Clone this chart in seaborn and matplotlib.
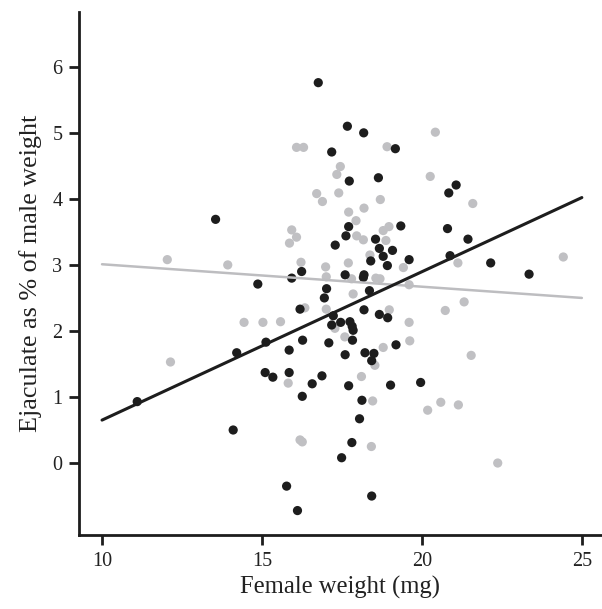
import matplotlib
matplotlib.use("Agg")
import matplotlib.pyplot as plt
import numpy as np
import pandas as pd
import seaborn as sns

# ---- data ----
black_x = [11.10, 13.55, 14.10, 14.21, 14.87, 15.125, 15.10, 15.34, 15.77, 15.85,
           15.85, 15.93, 16.11, 16.19, 16.24, 16.26, 16.27, 16.57, 16.76, 16.875,
           16.95, 17.02, 17.09, 17.18, 17.18, 17.23, 17.29, 17.46, 17.49, 17.60,
           17.60, 17.625, 17.67, 17.71, 17.73, 17.71, 17.75, 17.82, 17.85, 17.81,
           17.83, 18.05, 18.125, 18.18, 18.19, 18.17, 18.19, 18.22, 18.36, 18.40,
           18.43, 18.43, 18.50, 18.55, 18.64, 18.67, 18.67, 18.79, 18.92, 18.93,
           19.02, 19.08, 19.17, 19.19, 19.34, 19.60, 19.96, 20.80, 20.84, 20.88,
           21.07, 21.44, 22.15, 23.35]
black_y = [0.93, 3.69, 0.50, 1.67, 2.71, 1.83, 1.37, 1.30, -0.35, 1.71,
           1.37, 2.80, -0.72, 2.33, 2.90, 1.01, 1.86, 1.20, 5.76, 1.32,
           2.50, 2.64, 1.82, 4.71, 2.09, 2.23, 3.30, 2.13, 0.08, 2.85,
           1.64, 3.44, 5.10, 3.58, 4.27, 1.17, 2.14, 2.07, 2.01, 0.31,
           1.86, 0.67, 0.95, 5.00, 2.85, 2.81, 2.32, 1.67, 2.61, 3.06,
           1.55, -0.50, 1.66, 3.39, 4.32, 3.25, 2.25, 3.13, 2.99, 2.20,
           1.18, 3.22, 4.76, 1.79, 3.59, 3.08, 1.22, 3.55, 4.09, 3.14,
           4.21, 3.39, 3.03, 2.86]

gray_x = [12.04, 12.14, 13.93, 14.44, 15.03, 15.58, 15.82, 15.86, 15.93, 16.08,
          16.08, 16.30, 16.19, 16.26, 16.22, 16.34, 16.71, 16.89, 16.99, 17.01,
          17.01, 17.28, 17.34, 17.40, 17.45, 17.59, 17.70, 17.71, 17.80, 17.85,
          17.94, 17.96, 18.11, 18.17, 18.19, 18.375, 18.42, 18.46, 18.53, 18.56,
          18.69, 18.70, 18.79, 18.79, 18.875, 18.91, 18.97, 18.98, 19.42, 19.60,
          19.60, 19.62, 20.18, 20.26, 20.42, 20.59, 20.73, 21.125, 21.14, 21.32,
          21.54, 21.59, 22.37, 24.42]
gray_y = [3.08, 1.53, 3.00, 2.13, 2.13, 2.14, 1.21, 3.33, 3.53, 3.42,
          4.78, 4.78, 0.35, 0.32, 3.04, 2.35, 4.08, 3.96, 2.97, 2.82,
          2.33, 2.04, 4.37, 4.09, 4.49, 1.91, 3.03, 3.80, 2.79, 2.56,
          3.67, 3.44, 1.31, 3.38, 3.86, 3.15, 0.25, 0.94, 1.48, 2.80,
          2.79, 3.99, 3.52, 1.75, 3.37, 4.79, 3.58, 2.32, 2.96, 2.70,
          2.13, 1.85, 0.80, 4.34, 5.01, 0.92, 2.31, 3.03, 0.88, 2.44,
          1.63, 3.93, 0.00, 3.12]

fit_x = [10, 25]
black_fit = [0.65, 4.02]
gray_fit = [3.01, 2.50]

x_ticks = [10, 15, 20, 25]
y_ticks = [0, 1, 2, 3, 4, 5, 6]
x_label = "Female weight (mg)"
y_label = "Ejaculate as % of male weight"

# ---- styling ----
sns.set_style("ticks")
plt.rcParams['font.family'] = ['Liberation Serif', 'DejaVu Serif']

BLACK = "#1d1d1d"
GRAY = "#c0c0c3"

fig = plt.figure(figsize=(6.02, 6.09), dpi=100)
ax = fig.add_axes([79 / 602, 1 - 535 / 609, 1 - 79 / 602, (535 - 12) / 609])

pts = pd.DataFrame({
    "x": gray_x + black_x,
    "y": gray_y + black_y,
    "group": ["gray"] * len(gray_x) + ["black"] * len(black_x),
})
sns.scatterplot(data=pts, x="x", y="y", hue="group",
                palette={"gray": GRAY, "black": BLACK},
                s=44, linewidth=0, legend=False, ax=ax, zorder=2)

gfit = pd.DataFrame({"x": fit_x, "y": gray_fit})
bfit = pd.DataFrame({"x": fit_x, "y": black_fit})
sns.lineplot(data=gfit, x="x", y="y", color="#bdbdc0", linewidth=1.8, ax=ax, zorder=3)
sns.lineplot(data=bfit, x="x", y="y", color=BLACK, linewidth=2.2, ax=ax, zorder=3)

ax.set_xlim(9.28, 25.63)
ax.set_ylim(-1.09, 6.83)
ax.set_xticks(x_ticks)
ax.set_yticks(y_ticks)
ax.set_xlabel(x_label, fontsize=17.7, color="#222222", labelpad=4)
ax.set_ylabel(y_label, fontsize=18.8, color="#222222", labelpad=7)

for side in ["top", "right"]:
    ax.spines[side].set_visible(False)
for side in ["left", "bottom"]:
    ax.spines[side].set_linewidth(2.0)
    ax.spines[side].set_color("#1d1d1d")
ax.tick_params(direction="out", length=7, width=2.0, color="#1d1d1d",
               labelsize=14.5, labelcolor="#222222", pad=5)

fig.savefig("out.png", dpi=100)
